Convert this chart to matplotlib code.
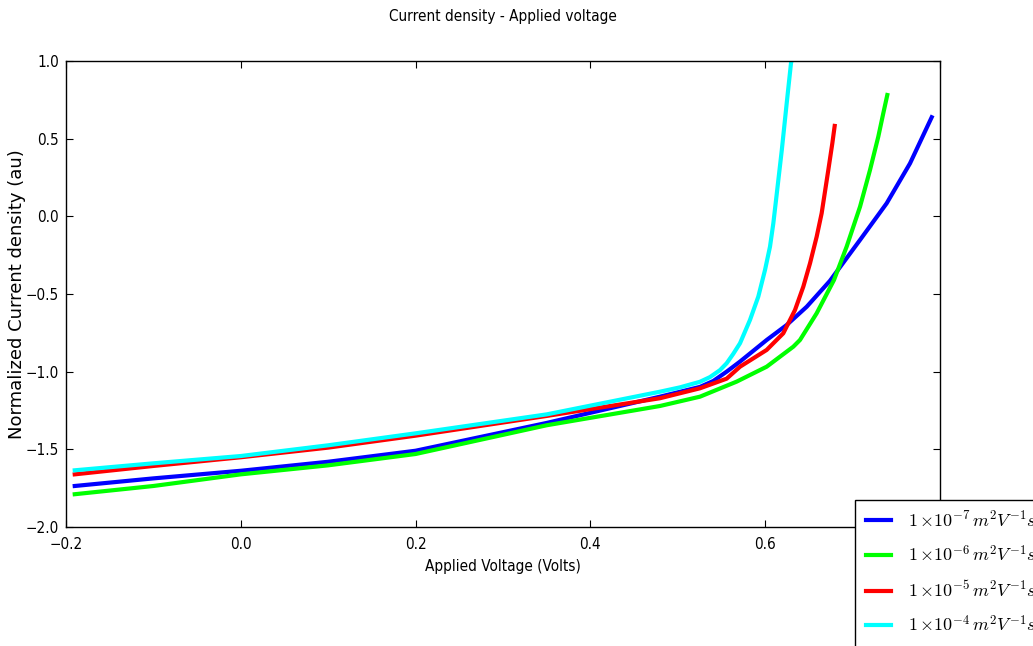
import matplotlib
matplotlib.use('Agg')
import matplotlib.pyplot as plt
from matplotlib import font_manager

# values
v_blue = [-0.19, -0.1, 0.0, 0.1, 0.2, 0.35, 0.4796, 0.5254, 0.5406, 0.5559, 0.5712, 0.6017, 0.6245, 0.6475, 0.6741, 0.7085, 0.739, 0.7657, 0.7905]
j_blue = [-1.736, -1.687, -1.638, -1.580, -1.509, -1.330, -1.161, -1.098, -1.060, -1.000, -0.935, -0.796, -0.700, -0.582, -0.415, -0.152, 0.084, 0.341, 0.638]

v_green = [-0.19, -0.1, 0.0, 0.1, 0.2, 0.35, 0.4796, 0.5254, 0.5674, 0.6017, 0.6322, 0.6398, 0.6589, 0.6787, 0.6932, 0.7085, 0.7199, 0.7294, 0.7351, 0.7397]
j_green = [-1.789, -1.736, -1.661, -1.603, -1.530, -1.345, -1.221, -1.161, -1.064, -0.968, -0.839, -0.796, -0.624, -0.410, -0.195, 0.062, 0.298, 0.513, 0.663, 0.781]

v_red = [-0.19, -0.1, 0.0, 0.1, 0.2, 0.35, 0.4796, 0.5254, 0.5559, 0.5712, 0.6017, 0.6207, 0.6341, 0.6436, 0.6513, 0.6589, 0.6646, 0.6722, 0.6768, 0.6795]
j_red = [-1.661, -1.607, -1.551, -1.489, -1.412, -1.285, -1.171, -1.107, -1.045, -0.968, -0.860, -0.753, -0.603, -0.453, -0.302, -0.131, 0.020, 0.298, 0.470, 0.582]

v_cyan = [-0.19, -0.1, 0.0, 0.1, 0.2, 0.35, 0.4796, 0.5025, 0.5254, 0.5368, 0.5483, 0.5559, 0.5635, 0.5712, 0.5826, 0.5921, 0.5998, 0.6055, 0.6093, 0.6124, 0.619, 0.6246, 0.6295, 0.632]
j_cyan = [-1.635, -1.590, -1.543, -1.474, -1.397, -1.275, -1.129, -1.101, -1.065, -1.035, -0.990, -0.946, -0.885, -0.817, -0.667, -0.517, -0.345, -0.195, -0.045, 0.105, 0.427, 0.728, 0.985, 1.05]

labels = [r'$1\,{\times}10^{-7}\,m^2V^{-1}s^{-1}$',
          r'$1\,{\times}10^{-6}\,m^2V^{-1}s^{-1}$',
          r'$1\,{\times}10^{-5}\,m^2V^{-1}s^{-1}$',
          r'$1\,{\times}10^{-4}\,m^2V^{-1}s^{-1}$']
colors = ['#0000ff', '#00ff00', '#ff0000', '#00ffff']

plt.rcParams['mathtext.fontset'] = 'cm'

# narrow font for title / ticks if one is around
narrow = dict(family='DejaVu Sans', stretch='condensed', size=11)
path = font_manager.findfont(font_manager.FontProperties(**narrow), fallback_to_default=True)
if 'ondensed' not in path:
    names = {f.name for f in font_manager.fontManager.ttflist}
    if 'Liberation Sans Narrow' in names:
        narrow = dict(family='Liberation Sans Narrow', size=11)
    else:
        narrow = dict(family='DejaVu Sans', size=9.5)
fp = lambda: font_manager.FontProperties(**narrow)

fig = plt.figure(figsize=(10.33, 6.46), dpi=100)
ax = fig.add_axes([66/1033, 119/646, 874/1033, 466/646])

for v, j, c, lab in zip([v_blue, v_green, v_red, v_cyan],
                        [j_blue, j_green, j_red, j_cyan], colors, labels):
    ax.plot(v, j, color=c, lw=3, label=lab)

ax.set_xlim(-0.2, 0.8)
ax.set_ylim(-2.0, 1.0)
ax.set_xticks([-0.2, 0.0, 0.2, 0.4, 0.6, 0.8])
ax.set_yticks([-2.0, -1.5, -1.0, -0.5, 0.0, 0.5, 1.0])
ax.tick_params(direction='in', length=5, top=True, right=True)
ax.tick_params(axis='x', pad=7)
ax.tick_params(axis='y', pad=5)
for t in ax.get_xticklabels() + ax.get_yticklabels():
    t.set_fontproperties(fp())
for s in ax.spines.values():
    s.set_linewidth(1.0)

ax.set_xlabel('Applied Voltage (Volts)', fontproperties=fp(), labelpad=5)
ax.set_ylabel('Normalized Current density (au)', fontsize=13)
ax.yaxis.set_label_coords(-0.046, 0.5)
fig.text(503/1033, 1 - 17/646, 'Current density - Applied voltage',
         ha='center', va='center', fontproperties=fp())

leg = ax.legend(loc='upper left', bbox_to_anchor=(0.9027, 0.058), borderaxespad=0,
                fontsize=13, handlelength=1.4, handletextpad=0.95, labelspacing=0.8,
                fancybox=False, framealpha=1, edgecolor='black', borderpad=0.6)
leg.get_frame().set_linewidth(1.0)

fig.savefig('out.png', dpi=100, facecolor='white')
